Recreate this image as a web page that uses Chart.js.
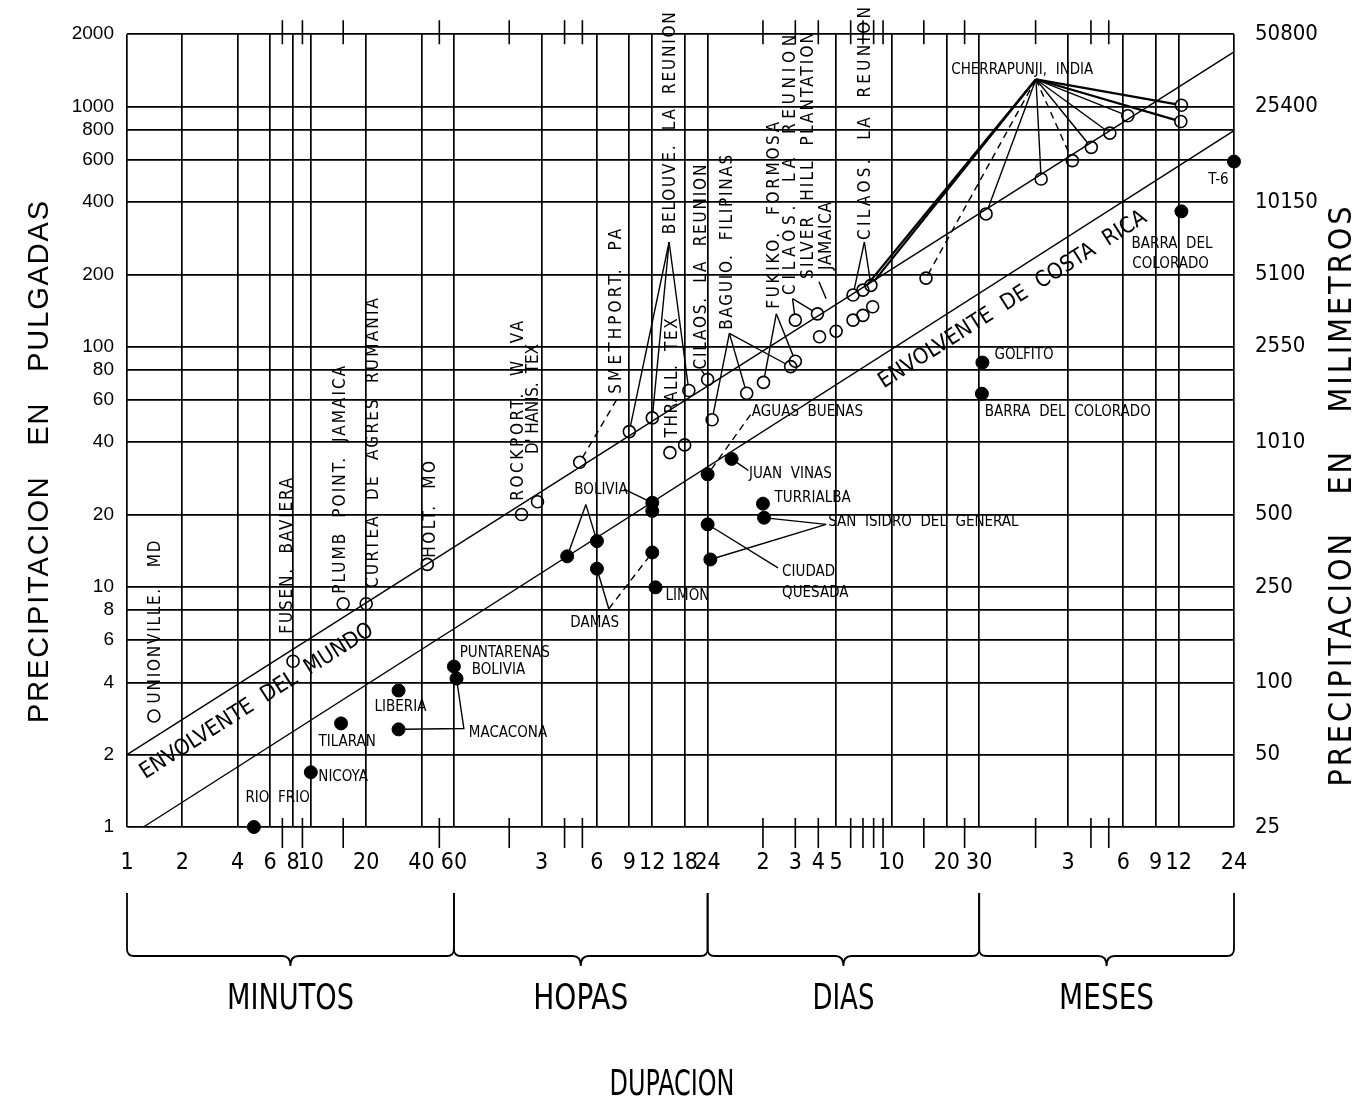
<!DOCTYPE html>
<html>
<head>
<meta charset="utf-8">
<title>Precipitacion vs duracion</title>
<script src="https://cdn.jsdelivr.net/npm/chart.js@4.4.1/dist/chart.umd.min.js"></script>
<style>
  html, body { margin: 0; padding: 0; background: #fff; }
  canvas { display: block; }
</style>
</head>
<body>
<canvas id="chart" width="1363" height="1103"></canvas>
<script>
// Duration units, everything is in minutes on the x axis
const HR = 60, DAY = 1440, MON = 43800;

// x axis: labelled ticks (minutes), their labels, and which of them get no full gridline
const xTickValues = [1, 2, 4, 6, 8, 10, 20, 40, 60,
  3 * HR, 6 * HR, 9 * HR, 12 * HR, 18 * HR, 24 * HR,
  2 * DAY, 3 * DAY, 4 * DAY, 5 * DAY, 10 * DAY, 20 * DAY, 30 * DAY,
  3 * MON, 6 * MON, 9 * MON, 12 * MON, 24 * MON];
const xTickLabels = ['1', '2', '4', '6', '8', '10', '20', '40', '60',
  '3', '6', '9', '12', '18', '24',
  '2', '3', '4', '5', '10', '20', '30',
  '3', '6', '9', '12', '24'];
const xNoGrid = [2 * DAY, 3 * DAY, 4 * DAY];
// short tick marks across the top and bottom border
const xMinorTicks = [7, 9, 15, 50, 2 * HR, 4 * HR, 5 * HR,
  2 * DAY, 3 * DAY, 4 * DAY, 6 * DAY, 7 * DAY, 8 * DAY, 9 * DAY, 15 * DAY, 25 * DAY,
  2 * MON, 4 * MON, 5 * MON];

// y axis (inches) and right axis (millimetres)
const yTickValues = [1, 2, 4, 6, 8, 10, 20, 40, 60, 80, 100, 200, 400, 600, 800, 1000, 2000];
const mmTickValues = [1, 2, 4, 10, 20, 40, 100, 200, 400, 1000, 2000];
const mmTickLabels = ['25', '50', '100', '250', '500', '1010', '2550', '5100', '10150', '25400', '50800'];

// duration groups under the axis
const segBounds = [1, 60, 24 * HR, 30 * DAY, 24 * MON];
const segNames = ['MINUTOS', 'HOPAS', 'DIAS', 'MESES'];

// world records (open circles): duration in minutes, rain in inches
const worldMin = [1.4, 8, 15, 20, 43, 140, 171, 290, 540, 720,
  898, 1080, 1138, 1440, 1523, 2350, 2900, 4075, 4320, 4320,
  5700, 5850, 7200, 8900, 10070, 11380, 8900, 10070, 11130, 22200,
  47100, 93900, 138800, 176000, 222000, 278000, 544000, 540000];
const worldIn = [2.9, 4.9, 8.5, 8.5, 12.4, 20, 22.6, 33, 44.3, 50.5,
  36.2, 39, 65.7, 73, 49.6, 64, 71, 82.6, 87, 129,
  137, 110, 116, 129, 135, 146.6, 164, 172, 180, 193,
  357, 499, 595, 676, 775, 915, 1012, 866];

// Costa Rica records (filled circles)
const crMin = [4.9, 10, 14.6, 30, 30, 60, 62, 248, 360, 360,
  720, 720, 720, 750, 1440, 1945, 1440, 1490, 2880, 2920,
  45000, 44700, 544000, 1051200];
const crIn = [1.0, 1.69, 2.7, 3.7, 2.55, 4.66, 4.15, 13.4, 15.5, 11.9,
  22.4, 20.7, 13.9, 9.95, 29.4, 34.1, 18.2, 13.0, 22.2, 19.4,
  85.9, 63.7, 366, 590];

// envelopes: [start, end] in (minutes, inches)
const worldEnvelope = [[1, 2], [24 * MON, 1687]];
const crEnvelope = [[1.23, 1], [24 * MON, 793]];

// horizontal station names: text, anchor duration, anchor inches (left end)
const hLabels = [
  ['RIO  FRIO', 4.41, 1.32], ['NICOYA', 10.98, 1.61], ['TILARAN', 11.0, 2.25],
  ['LIBERIA', 22.2, 3.15], ['PUNTARENAS', 64.5, 5.32], ['BOLIVIA', 75, 4.48],
  ['MACACONA', 72.3, 2.46], ['DAMAS', 258, 7.03], ['LIMON', 850, 9.16],
  ['CIUDAD', 3660, 11.55], ['QUESADA', 3660, 9.45], ['BOLIVIA', 271, 25.3],
  ['JUAN  VINAS', 2417, 29.4], ['TURRIALBA', 3330, 23.4],
  ['SAN  ISIDRO  DEL  GENERAL', 6525, 18.6], ['AGUAS  BUENAS', 2506, 53.3],
  ['GOLFITO', 52300, 91.8], ['BARRA  DEL  COLORADO', 46300, 53.3],
  ['BARRA  DEL', 291500, 267.6], ['COLORADO', 294000, 221], ['T-6', 762000, 493],
  ['CHERRAPUNJI,  INDIA', 30460, 1424]
];

// vertical station names: text, anchor (bottom end), length in px
const vLabels = [
  ['UNIONVILLE.   MD', 1.43, 3.27, 163], ['FUSEN.  BAVIERA', 7.43, 6.38, 156],
  ['PLUMB  POINT.  JAMAICA', 14.56, 9.36, 228], ['CURTEA  DE  AGRES  RUMANIA', 21.96, 9.9, 290],
  ['HOLT.  MO', 44.9, 13.2, 97], ['ROCKPORT.  W  VA', 134.5, 22.8, 180],
  ["D' HANIS.  TEX", 162.6, 35.7, 110], ['SMETHPORT.  PA', 460, 63.7, 165],
  ['THRALL.  TEX', 925, 41.9, 119], ['BELOUVE.  LA  REUNION', 903, 294, 222],
  ['CILAOS.  LA  REUNION', 1327, 80.3, 205], ['BAGUIO.  FILIPINAS', 1845, 117.6, 175],
  ['FUKIKO.  FORMOSA', 3330, 143.8, 187], ['CILAOS.  LA  REUNION', 4075, 164.3, 260],
  ['SILVER  HILL  PLANTATION', 5113, 191.5, 247], ['JAMAICA', 6353, 208.7, 68],
  ['CILAOS.  LA  REUNION', 10350, 278, 233]
];

// leader lines: style (s solid, d dashed, b bold), then points; 'wN' / 'cN' refer to records
const CHERRA = [87970, 1298];
const leaders = [
  ['s', [313.5, 22.0], 'c7'], ['s', [313.5, 22.0], 'c8'], ['s', [505, 25.5], 'c10'],
  ['s', [417.6, 8.1], 'c9'], ['d', [417.6, 8.1], 'c12'],
  ['s', 'c6', [68, 2.57], 'c4'],
  ['s', 'c15', [2400, 30.5]],
  ['d', [2466, 52.1], 'c14'],
  ['s', [6353, 18.2], 'c19'], ['s', [6353, 18.2], 'c17'],
  ['s', [3478, 12.0], 'c16'],
  ['s', [889, 272.8], 'w8'], ['s', [889, 272.8], 'w9'], ['s', [889, 272.8], 'w12'],
  ['s', [1891, 113.6], 'w14'], ['s', [1891, 113.6], 'w15'], ['s', [1891, 113.6], 'w17'],
  ['s', [3404, 137], 'w16'], ['s', [3404, 137], 'w18'],
  ['s', [4170, 158.6], 'w20'], ['s', [4170, 158.6], 'w19'],
  ['s', [10260, 272.8], 'w26'], ['s', [10260, 272.8], 'w28'],
  ['d', [460, 60], 'w7'],
  ['s', [1327, 80.3], 'w13'],
  ['s', [6353, 158.5], [5810, 186.5]],
  ['b', CHERRA, 'w27'], ['b', CHERRA, 'w28'], ['d', CHERRA, 'w29'],
  ['s', CHERRA, 'w30'], ['s', CHERRA, 'w31'], ['d', CHERRA, 'w32'],
  ['s', CHERRA, 'w33'], ['s', CHERRA, 'w34'], ['s', CHERRA, 'w35'],
  ['b', CHERRA, 'w36'], ['b', CHERRA, 'w37']
];

const LABEL_FONT = "'DejaVu Sans Condensed', 'Liberation Sans Narrow', sans-serif";
const NARROW_FONT = "'Liberation Sans Narrow', 'DejaVu Sans Condensed', sans-serif";
const ARIAL_FONT = "'Liberation Sans', Arial, sans-serif";

function resolve(ref) {
  if (Array.isArray(ref)) return ref;
  const i = +ref.slice(1);
  return ref[0] === 'w' ? [worldMin[i], worldIn[i]] : [crMin[i], crIn[i]];
}

// draws text, optionally spread/squeezed to a given length
function drawText(ctx, str, x, y, angle, font, align, len, squeeze) {
  ctx.save();
  ctx.translate(x, y);
  ctx.rotate(angle);
  ctx.font = font;
  ctx.textAlign = align;
  ctx.textBaseline = 'middle';
  if (len && !squeeze) {
    const w = ctx.measureText(str).width;
    ctx.letterSpacing = ((len - w) / Math.max(1, str.length - 1)).toFixed(2) + 'px';
  }
  if (len && squeeze) ctx.fillText(str, 0, 0, len);
  else ctx.fillText(str, 0, 0);
  ctx.restore();
}

const decorPlugin = {
  id: 'decor',
  beforeDatasetsDraw(chart) {
    const { ctx, chartArea: a, scales: { x, y } } = chart;
    const px = p => [x.getPixelForValue(p[0]), y.getPixelForValue(p[1])];
    ctx.save();
    ctx.strokeStyle = '#000';
    ctx.lineWidth = 1.6;
    // minor tick marks
    xMinorTicks.forEach(v => {
      const X = x.getPixelForValue(v);
      ctx.beginPath();
      ctx.moveTo(X, a.top - 14); ctx.lineTo(X, a.top + 10);
      ctx.moveTo(X, a.bottom - 9); ctx.lineTo(X, a.bottom + 21);
      ctx.stroke();
    });
    // leader lines, trimmed at the markers
    leaders.forEach(([style, ...refs]) => {
      const pts = refs.map(r => px(resolve(r)));
      const trim = (i, j) => {
        if (typeof refs[i] !== 'string') return;
        const dx = pts[j][0] - pts[i][0], dy = pts[j][1] - pts[i][1];
        const d = Math.hypot(dx, dy) || 1;
        pts[i] = [pts[i][0] + dx / d * 6, pts[i][1] + dy / d * 6];
      };
      trim(0, 1);
      trim(pts.length - 1, pts.length - 2);
      ctx.lineWidth = style === 'b' ? 2.2 : 1.4;
      ctx.setLineDash(style === 'd' ? [7, 5] : []);
      ctx.beginPath();
      pts.forEach((p, i) => i ? ctx.lineTo(p[0], p[1]) : ctx.moveTo(p[0], p[1]));
      ctx.stroke();
    });
    ctx.restore();
  },
  afterDatasetsDraw(chart) {
    const { ctx, scales: { x, y } } = chart;
    const px = p => [x.getPixelForValue(p[0]), y.getPixelForValue(p[1])];
    ctx.save();
    ctx.fillStyle = '#000';
    ctx.strokeStyle = '#000';

    hLabels.forEach(([t, vx, vy]) => {
      const [X, Y] = px([vx, vy]);
      drawText(ctx, t, X, Y, 0, '15px ' + LABEL_FONT, 'left');
    });
    vLabels.forEach(([t, vx, vy, len]) => {
      const [X, Y] = px([vx, vy]);
      drawText(ctx, t, X, Y, -Math.PI / 2, '17px ' + LABEL_FONT, 'left', len);
    });

    // envelope names along the lines
    const e0 = px(worldEnvelope[0]), e1 = px(worldEnvelope[1]);
    const ang = Math.atan2(e1[1] - e0[1], e1[0] - e0[0]);
    let p = px([5.09, 3.33]);
    drawText(ctx, 'ENVOLVENTE  DEL  MUNDO', p[0], p[1], ang, '22px ' + LABEL_FONT, 'center', 272);
    p = px([65900, 156.7]);
    drawText(ctx, 'ENVOLVENTE  DE  COSTA  RICA', p[0], p[1], ang, '22px ' + LABEL_FONT, 'center', 313);

    // axis titles
    drawText(ctx, 'PRECIPITACION   EN   PULGADAS', 40, 461, -Math.PI / 2, '29px ' + ARIAL_FONT, 'center', 522);
    drawText(ctx, 'PRECIPITACION   EN   MILIMETROS', 1343, 495, -Math.PI / 2, '32px ' + NARROW_FONT, 'center', 580);

    // braces grouping the durations
    ctx.lineWidth = 1.8;
    const yTop = 893, yBar = 956, r = 7;
    for (let i = 0; i < segNames.length; i++) {
      const x0 = x.getPixelForValue(segBounds[i]), x1 = x.getPixelForValue(segBounds[i + 1]);
      const m = (x0 + x1) / 2;
      ctx.beginPath();
      ctx.moveTo(x0, yTop);
      ctx.lineTo(x0, yBar - r);
      ctx.quadraticCurveTo(x0, yBar, x0 + r, yBar);
      ctx.lineTo(m - 8, yBar);
      ctx.quadraticCurveTo(m, yBar, m, yBar + 10);
      ctx.quadraticCurveTo(m, yBar, m + 8, yBar);
      ctx.lineTo(x1 - r, yBar);
      ctx.quadraticCurveTo(x1, yBar, x1, yBar - r);
      ctx.lineTo(x1, yTop);
      ctx.stroke();
      drawText(ctx, segNames[i], m, 1000, 0, '36px ' + NARROW_FONT, 'center', [127, 95, 62, 95][i], true);
    }
    drawText(ctx, 'DUPACION', 672, 1086, 0, '36px ' + NARROW_FONT, 'center', 125, true);
    ctx.restore();
  }
};

const toPoints = (xs, ys) => xs.map((v, i) => ({ x: v, y: ys[i] }));
const toLine = seg => seg.map(([a, b]) => ({ x: a, y: b }));

new Chart(document.getElementById('chart'), {
  type: 'scatter',
  data: {
    datasets: [
      {
        label: 'Envolvente del mundo',
        data: toLine(worldEnvelope),
        showLine: true, borderColor: '#000', borderWidth: 1.4, pointRadius: 0, clip: false
      },
      {
        label: 'Envolvente de Costa Rica',
        data: toLine(crEnvelope),
        showLine: true, borderColor: '#000', borderWidth: 1.4, pointRadius: 0, clip: false
      },
      {
        label: 'Records mundiales',
        data: toPoints(worldMin, worldIn),
        pointRadius: 6, pointBorderWidth: 1.6,
        pointBorderColor: '#000', pointBackgroundColor: 'rgba(0,0,0,0)', clip: false
      },
      {
        label: 'Costa Rica',
        data: toPoints(crMin, crIn),
        pointRadius: 6.5, pointBorderWidth: 1,
        pointBorderColor: '#000', pointBackgroundColor: '#000', clip: false
      }
    ]
  },
  options: {
    responsive: false,
    devicePixelRatio: 1,
    animation: false,
    layout: { padding: { top: 32, left: 0, right: 0, bottom: 0 } },
    plugins: { legend: { display: false }, tooltip: { enabled: false } },
    scales: {
      x: {
        type: 'logarithmic',
        position: 'bottom',
        min: 1,
        max: 24 * MON,
        afterBuildTicks: s => { s.ticks = xTickValues.map(v => ({ value: v })); },
        afterFit: s => { s.height = 276; },
        border: { display: false },
        grid: {
          drawTicks: false,
          lineWidth: 1.7,
          color: c => (c.tick && xNoGrid.includes(c.tick.value)) ? 'rgba(0,0,0,0)' : '#000'
        },
        ticks: {
          autoSkip: false, maxRotation: 0, minRotation: 0, padding: 22,
          color: '#000',
          font: { family: NARROW_FONT, size: 23 },
          callback: (v, i) => xTickLabels[i]
        }
      },
      y: {
        type: 'logarithmic',
        position: 'left',
        min: 1,
        max: 2000,
        afterBuildTicks: s => { s.ticks = yTickValues.map(v => ({ value: v })); },
        afterFit: s => { s.width = 127; },
        border: { display: false },
        grid: { drawTicks: false, lineWidth: 1.7, color: '#000' },
        ticks: {
          padding: 13, color: '#000',
          font: { family: ARIAL_FONT, size: 19 },
          callback: v => String(v)
        }
      },
      y2: {
        type: 'logarithmic',
        position: 'right',
        min: 1,
        max: 2000,
        afterBuildTicks: s => { s.ticks = mmTickValues.map(v => ({ value: v })); },
        afterFit: s => { s.width = 129; },
        border: { display: false },
        grid: { drawOnChartArea: false, drawTicks: false },
        ticks: {
          padding: 21, color: '#000',
          font: { family: LABEL_FONT, size: 22 },
          callback: (v, i) => mmTickLabels[i]
        }
      }
    }
  },
  plugins: [decorPlugin]
});
</script>
</body>
</html>
